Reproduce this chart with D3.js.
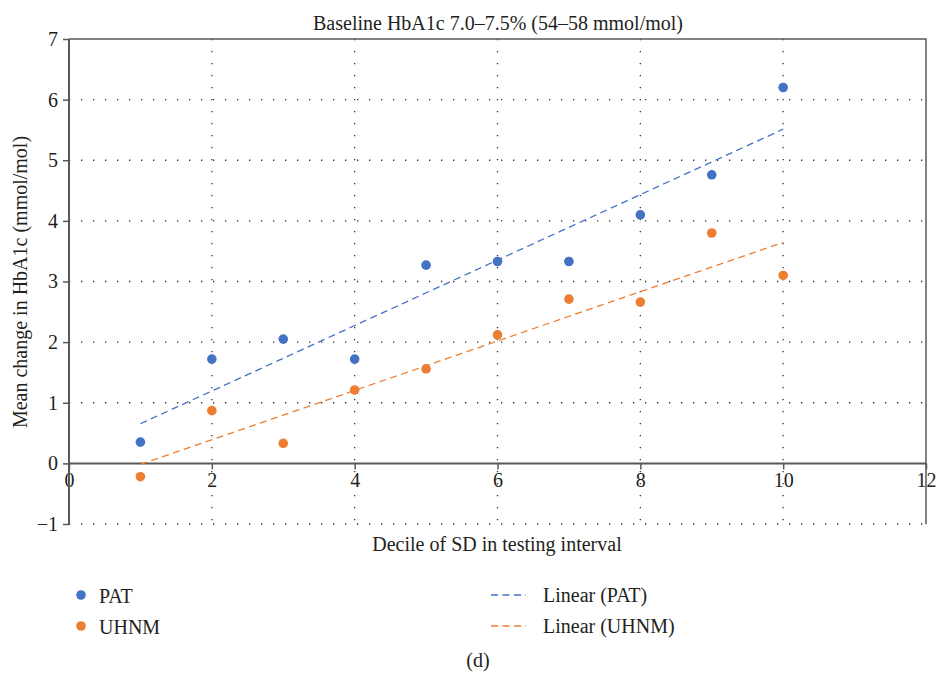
<!DOCTYPE html>
<html>
<head>
<meta charset="utf-8">
<script src="https://cdn.jsdelivr.net/npm/d3@7"></script>
<style>
  body { margin: 0; background: #fff; }
  svg text { font-family: "Liberation Serif", "DejaVu Serif", serif; fill: #231f20; }
</style>
</head>
<body>
<div id="chart"></div>
<script>
var deciles = [1, 2, 3, 4, 5, 6, 7, 8, 9, 10];
var patValues = [0.35, 1.72, 2.05, 1.72, 3.27, 3.33, 3.33, 4.10, 4.76, 6.20];
var uhnmValues = [-0.22, 0.87, 0.33, 1.21, 1.56, 2.12, 2.71, 2.66, 3.80, 3.10];
var xTicks = [0, 2, 4, 6, 8, 10, 12];
var yTicks = [-1, 0, 1, 2, 3, 4, 5, 6, 7];

var width = 938, height = 678;
var blue = "#4472c4", orange = "#ed7d31", axisColor = "#595959";
var fs = 20;

var svg = d3.select("#chart").append("svg")
  .attr("width", width)
  .attr("height", height);

var x = d3.scaleLinear().domain([0, 12]).range([69, 926]);
var y = d3.scaleLinear().domain([-1, 7]).range([524, 39]);

// dotted grid
var grid = svg.append("g").attr("stroke", "#333").attr("stroke-width", 1.3)
  .attr("stroke-dasharray", "1.3,10.7");
grid.selectAll("line.v").data(xTicks.slice(1, -1)).enter().append("line")
  .attr("x1", d => x(d)).attr("x2", d => x(d))
  .attr("y1", y(7)).attr("y2", y(-1));
grid.selectAll("line.h").data(yTicks.slice(0, -1).filter(d => d !== 0)).enter().append("line")
  .attr("x1", x(0)).attr("x2", x(12))
  .attr("y1", d => y(d)).attr("y2", d => y(d));

// frame: top and right
svg.append("path")
  .attr("d", "M" + x(0) + "," + y(7) + "H" + x(12) + "V" + y(-1))
  .attr("fill", "none").attr("stroke", axisColor).attr("stroke-width", 1.5);

// axes
var xAxis = d3.axisBottom(x).tickValues(xTicks).tickSize(6).tickPadding(3);
var gx = svg.append("g").attr("transform", "translate(0," + y(0) + ")").call(xAxis);
var yAxis = d3.axisLeft(y).tickValues(yTicks).tickSize(6).tickPadding(5)
  .tickFormat(d => d < 0 ? "\u2212" + Math.abs(d) : d);
var gy = svg.append("g").attr("transform", "translate(" + x(0) + ",0)").call(yAxis);

[gx, gy].forEach(function (g) {
  g.select(".domain").attr("stroke", axisColor).attr("stroke-width", 2);
  g.selectAll(".tick line").attr("stroke", axisColor).attr("stroke-width", 1.5);
  g.selectAll(".tick text").attr("font-size", fs).attr("font-family", "Liberation Serif").attr("fill", "#231f20");
});
gy.select(".domain").attr("d", "M0," + y(7) + "V" + y(-1));
gx.select(".domain").attr("d", "M" + x(0) + ",0H" + x(12));

// trend lines (least squares)
function fit(xs, ys) {
  var mx = d3.mean(xs), my = d3.mean(ys);
  var sxy = d3.sum(xs, (v, i) => (v - mx) * (ys[i] - my));
  var sxx = d3.sum(xs, v => (v - mx) * (v - mx));
  var b = sxy / sxx;
  return { a: my - b * mx, b: b };
}
var series = [
  { name: "PAT", values: patValues, color: blue },
  { name: "UHNM", values: uhnmValues, color: orange }
];
series.forEach(function (s) {
  var f = fit(deciles, s.values);
  var x0 = d3.min(deciles), x1 = d3.max(deciles);
  svg.append("line")
    .attr("x1", x(x0)).attr("y1", y(f.a + f.b * x0))
    .attr("x2", x(x1)).attr("y2", y(f.a + f.b * x1))
    .attr("stroke", s.color).attr("stroke-width", 1.3)
    .attr("stroke-dasharray", "7,4.5");
});
series.forEach(function (s) {
  svg.append("g").selectAll("circle").data(s.values).enter().append("circle")
    .attr("cx", (d, i) => x(deciles[i]))
    .attr("cy", d => y(d))
    .attr("r", 4.8)
    .attr("fill", s.color);
});

// titles
svg.append("text").attr("x", 498).attr("y", 30).attr("text-anchor", "middle")
  .attr("font-size", fs).text("Baseline HbA1c 7.0\u20137.5% (54\u201358 mmol/mol)");
svg.append("text").attr("x", 497).attr("y", 551).attr("text-anchor", "middle")
  .attr("font-size", fs).text("Decile of SD in testing interval");
svg.append("text").attr("transform", "translate(27,282) rotate(-90)")
  .attr("text-anchor", "middle").attr("font-size", fs)
  .text("Mean change in HbA1c (mmol/mol)");

// legend
var legend = svg.append("g");
series.forEach(function (s, i) {
  var ly = 595 + i * 31;
  legend.append("circle").attr("cx", 81).attr("cy", ly).attr("r", 4.8).attr("fill", s.color);
  legend.append("text").attr("x", 99).attr("y", ly + 8).attr("font-size", fs).text(s.name);
  legend.append("line").attr("x1", 491).attr("x2", 526).attr("y1", ly).attr("y2", ly)
    .attr("stroke", s.color).attr("stroke-width", 1.3).attr("stroke-dasharray", "7,4.5");
  legend.append("text").attr("x", 543).attr("y", ly + 7).attr("font-size", fs)
    .text("Linear (" + s.name + ")");
});

svg.append("text").attr("x", 478).attr("y", 667).attr("text-anchor", "middle")
  .attr("font-size", fs).text("(d)");
</script>
</body>
</html>
